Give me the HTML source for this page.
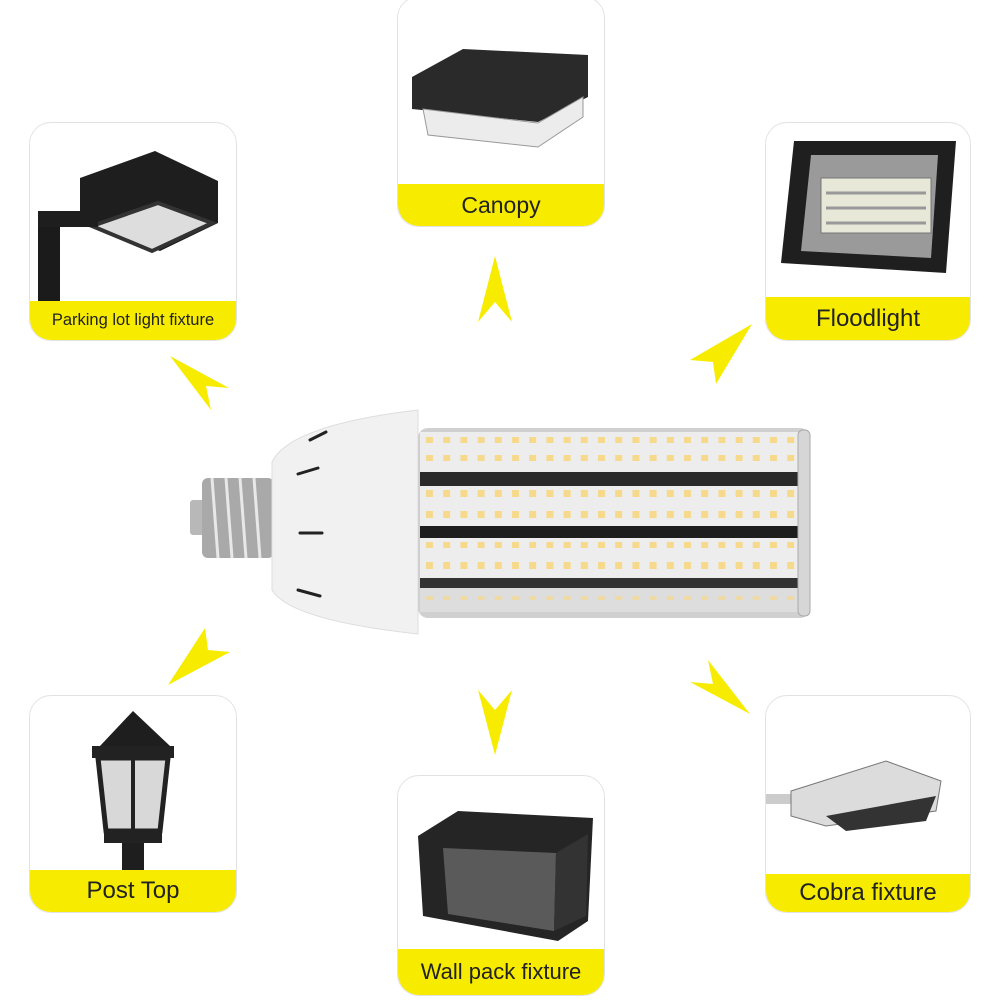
<!DOCTYPE html>
<html><head><meta charset="utf-8"><style>
html,body{margin:0;padding:0;background:#fff;}
body{width:1000px;height:1000px;position:relative;overflow:hidden;font-family:"Liberation Sans","DejaVu Sans",sans-serif;}
.card{position:absolute;border:1.5px solid #e2e2e2;border-radius:22px;overflow:hidden;background:#fff;box-sizing:border-box;}
.lab{position:absolute;left:0;right:0;bottom:0;background:#f7ec00;color:#222;text-align:center;}
</style></head><body>
<svg width="1000" height="1000" style="position:absolute;left:0;top:0">
<defs>
<pattern id="led" x="423" y="0" width="17.2" height="1000" patternUnits="userSpaceOnUse"><rect x="3" width="7" height="1000" fill="#f6d98a"/></pattern>
</defs>
</svg>

<!-- Parking lot -->
<div class="card" style="left:29px;top:122px;width:208px;height:219px">
<svg width="208" height="219" style="position:absolute;left:0;top:0">
<polygon points="50,55 125,28 188,58 188,100 130,128 50,100" fill="#1e1e1e"/>
<polygon points="62,103 128,80 182,100 122,128" fill="#ddd" stroke="#333" stroke-width="4"/>
<rect x="8" y="90" width="22" height="92" fill="#1b1b1b"/>
<rect x="8" y="88" width="60" height="16" fill="#1e1e1e"/>
</svg>
<div class="lab" style="height:39px;line-height:39px;font-size:16.5px">Parking lot light fixture</div>
</div>

<!-- Canopy -->
<div class="card" style="left:397px;top:-4px;width:208px;height:231px">
<svg width="208" height="231" style="position:absolute;left:0;top:0">
<polygon points="14,80 65,52 190,58 190,100 140,125 14,112" fill="#2a2a2a"/>
<polygon points="25,112 140,126 185,100 185,120 140,150 30,138" fill="#ececec" stroke="#999"/>
</svg>
<div class="lab" style="height:42px;line-height:42px;font-size:23px">Canopy</div>
</div>

<!-- Floodlight -->
<div class="card" style="left:765px;top:122px;width:206px;height:219px">
<svg width="206" height="219" style="position:absolute;left:0;top:0">
<polygon points="28,18 190,18 180,150 15,140" fill="#1f1f1f"/>
<polygon points="45,32 172,32 165,135 35,128" fill="#9a9a9a"/>
<rect x="55" y="55" width="110" height="55" fill="#e8e8d8" stroke="#777"/>
<line x1="60" y1="70" x2="160" y2="70" stroke="#999" stroke-width="3"/>
<line x1="60" y1="85" x2="160" y2="85" stroke="#999" stroke-width="3"/>
<line x1="60" y1="100" x2="160" y2="100" stroke="#999" stroke-width="3"/>
</svg>
<div class="lab" style="height:43px;line-height:43px;font-size:24px">Floodlight</div>
</div>

<!-- Post top -->
<div class="card" style="left:29px;top:695px;width:208px;height:218px">
<svg width="208" height="218" style="position:absolute;left:0;top:0">
<polygon points="103,15 140,50 70,50" fill="#1e1e1e"/>
<rect x="62" y="50" width="82" height="12" fill="#222"/>
<polygon points="68,62 138,62 130,135 76,135" fill="#d8d8d8" stroke="#222" stroke-width="5"/>
<line x1="103" y1="62" x2="103" y2="135" stroke="#222" stroke-width="4"/>
<rect x="74" y="135" width="58" height="12" fill="#222"/>
<rect x="92" y="147" width="22" height="28" fill="#1e1e1e"/>
</svg>
<div class="lab" style="height:42px;line-height:42px;font-size:24px">Post Top</div>
</div>

<!-- Wall pack -->
<div class="card" style="left:397px;top:775px;width:208px;height:221px">
<svg width="208" height="221" style="position:absolute;left:0;top:0">
<polygon points="20,60 60,35 195,42 190,145 160,165 25,140" fill="#252525"/>
<polygon points="45,72 158,77 156,155 50,138" fill="#5a5a5a"/>
<polygon points="158,77 190,58 188,140 156,155" fill="#333"/>
</svg>
<div class="lab" style="height:46px;line-height:46px;font-size:22px">Wall pack fixture</div>
</div>

<!-- Cobra -->
<div class="card" style="left:765px;top:695px;width:206px;height:218px">
<svg width="206" height="218" style="position:absolute;left:0;top:0">
<rect x="0" y="98" width="30" height="10" fill="#ccc"/>
<polygon points="25,95 120,65 175,85 170,115 60,130 25,120" fill="#dcdcdc" stroke="#777"/>
<polygon points="60,120 170,100 160,125 80,135" fill="#333"/>
</svg>
<div class="lab" style="height:38px;line-height:38px;font-size:24px">Cobra fixture</div>
</div>

<!-- arrows -->
<svg width="1000" height="1000" style="position:absolute;left:0;top:0">
<g fill="#f7ec00">
<polygon points="170,356 229,388 206,386 211,410"/>
<polygon points="495,256 512,322 495,302 478,322"/>
<polygon points="752,324 716,384 713,362 690,360"/>
<polygon points="168,685 205,628 208,650 230,652"/>
<polygon points="495,755 478,690 495,710 512,690"/>
<polygon points="750,714 690,682 713,684 708,660"/>
</g>
<!-- bulb -->
<rect x="190" y="500" width="14" height="35" rx="3" fill="#b8b8b8"/>
<rect x="202" y="478" width="72" height="80" rx="6" fill="#a9a9a9"/>
<g stroke="#e8e8e8" stroke-width="3">
<line x1="212" y1="478" x2="218" y2="558"/><line x1="226" y1="478" x2="232" y2="558"/>
<line x1="240" y1="478" x2="246" y2="558"/><line x1="254" y1="478" x2="260" y2="558"/>
</g>
<path d="M272,462 Q290,425 418,410 L418,634 Q290,620 272,590 Z" fill="#f1f1f1" stroke="#ddd"/>
<g stroke="#222" stroke-width="3" stroke-linecap="round">
<line x1="298" y1="474" x2="318" y2="468"/><line x1="300" y1="533" x2="322" y2="533"/>
<line x1="298" y1="590" x2="320" y2="596"/><line x1="310" y1="440" x2="326" y2="432"/>
</g>
<rect x="418" y="428" width="392" height="190" rx="10" fill="#cfd0cf"/>
<rect x="420" y="432" width="380" height="40" fill="#ededed"/>
<rect x="420" y="472" width="380" height="14" fill="#2a2a2a"/>
<rect x="420" y="486" width="380" height="40" fill="#ededed"/>
<rect x="420" y="526" width="380" height="12" fill="#1e1e1e"/>
<rect x="420" y="538" width="380" height="40" fill="#ededed"/>
<rect x="420" y="578" width="380" height="10" fill="#333"/>
<rect x="420" y="588" width="380" height="24" fill="#ddd"/>
<g fill="url(#led)">
<rect x="423" y="437" width="374" height="6"/><rect x="423" y="455" width="374" height="6"/>
<rect x="423" y="490" width="374" height="7"/><rect x="423" y="511" width="374" height="7"/>
<rect x="423" y="542" width="374" height="6"/><rect x="423" y="562" width="374" height="7"/>
<rect x="423" y="596" width="374" height="4" opacity="0.7"/>
</g>
<rect x="798" y="430" width="12" height="186" rx="5" fill="#d6d6d6" stroke="#aaa"/>
</svg>
</body></html>
